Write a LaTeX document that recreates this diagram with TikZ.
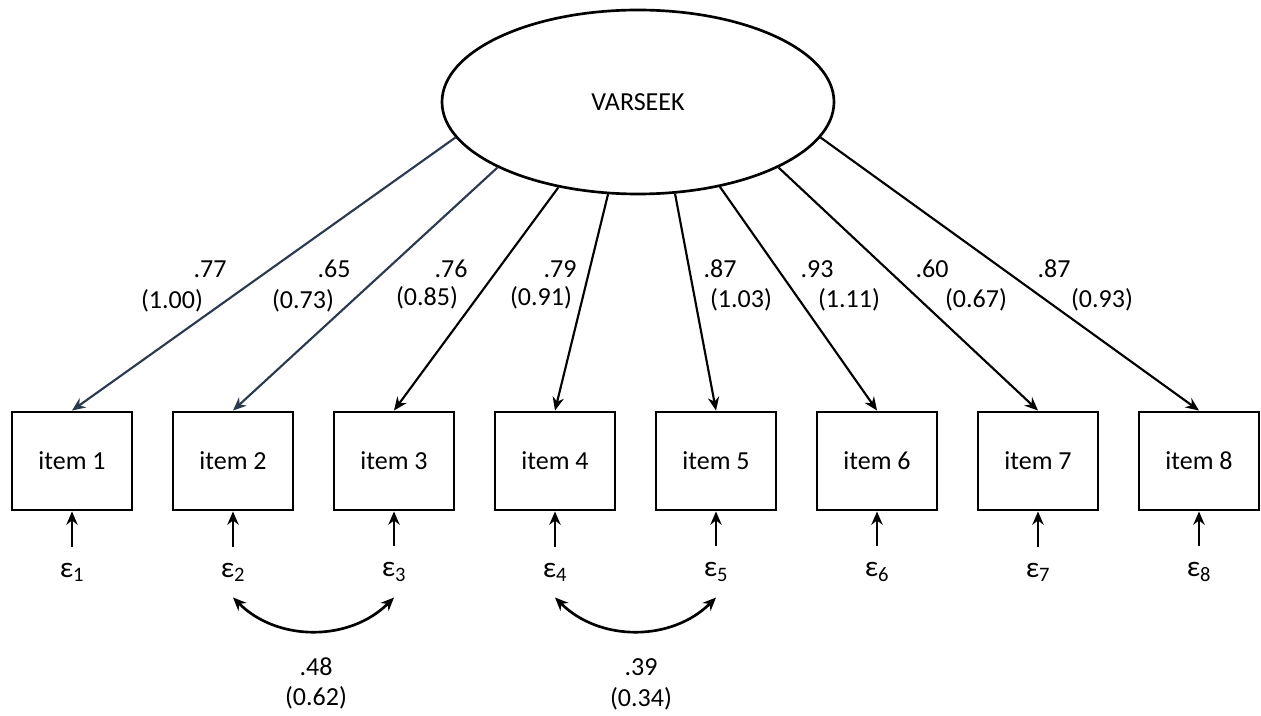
\documentclass[tikz,border=0pt]{standalone}
\usepackage{fontspec}
\setmainfont{Carlito}
\usetikzlibrary{shapes.geometric,arrows.meta}
\definecolor{pathblue}{HTML}{2B3A4F}
\tikzset{
  latent/.style={draw,ellipse,line width=2pt,minimum width=294pt,minimum height=138pt},
  itembox/.style={draw,rectangle,line width=2.2pt,minimum width=90pt,minimum height=73.5pt},
  errnode/.style={inner xsep=0pt,inner ysep=12pt,font=\fontsize{22}{24}\selectfont},
  load/.style={-{Stealth[length=10pt,width=8.5pt]},line width=1.6pt},
  errpath/.style={-{Stealth[length=10pt,width=8.5pt]},line width=1.9pt},
  cov/.style={{Stealth[length=10pt,width=8.5pt]}-{Stealth[length=10pt,width=8.5pt]},line width=2pt},
}
\begin{document}
\begin{tikzpicture}[x=0.75pt,y=0.75pt,font=\fontsize{19.5}{23}\selectfont]
\useasboundingbox (0,0) rectangle (1261,715);
% latent factor
\node[latent] (varseek) at (638,613) {VARSEEK};
% observed items
\node[itembox] (item1) at (72,254) {item 1};
\node[itembox] (item2) at (233,254) {item 2};
\node[itembox] (item3) at (394,254) {item 3};
\node[itembox] (item4) at (555,254) {item 4};
\node[itembox] (item5) at (716,254) {item 5};
\node[itembox] (item6) at (877,254) {item 6};
\node[itembox] (item7) at (1038,254) {item 7};
\node[itembox] (item8) at (1199,254) {item 8};
% error terms
\node[errnode] (e1) at (72,143) {ε\textsubscript{1}};
\node[errnode] (e2) at (233,143) {ε\textsubscript{2}};
\node[errnode] (e3) at (394,143) {ε\textsubscript{3}};
\node[errnode] (e4) at (555,143) {ε\textsubscript{4}};
\node[errnode] (e5) at (716,143) {ε\textsubscript{5}};
\node[errnode] (e6) at (877,143) {ε\textsubscript{6}};
\node[errnode] (e7) at (1038,143) {ε\textsubscript{7}};
\node[errnode] (e8) at (1199,143) {ε\textsubscript{8}};
% loadings
\draw[load,pathblue] (varseek.191) -- (item1.north);
\draw[load,pathblue] (varseek.205) -- (item2.north);
\draw[load] (varseek.227) -- (item3.north);
\draw[load] (varseek.252) -- (item4.north);
\draw[load] (varseek.292) -- (item5.north);
\draw[load] (varseek.314) -- (item6.north);
\draw[load] (varseek.335) -- (item7.north);
\draw[load] (varseek.349) -- (item8.north);
\draw[errpath] (e1) -- (item1);
\draw[errpath] (e2) -- (item2);
\draw[errpath] (e3) -- (item3);
\draw[errpath] (e4) -- (item4);
\draw[errpath] (e5) -- (item5);
\draw[errpath] (e6) -- (item6);
\draw[errpath] (e7) -- (item7);
\draw[errpath] (e8) -- (item8);
% loading values
\node (std1) at (210,446) {.77};
\node (raw1) at (172,414) {(1.00)};
\node (std2) at (334,446) {.65};
\node (raw2) at (303,414) {(0.73)};
\node (std3) at (451,446) {.76};
\node (raw3) at (427,417) {(0.85)};
\node (std4) at (560,446) {.79};
\node (raw4) at (541,417) {(0.91)};
\node (std5) at (720,446) {.87};
\node (raw5) at (741,415) {(1.03)};
\node (std6) at (817,446) {.93};
\node (raw6) at (849,415) {(1.11)};
\node (std7) at (932,446) {.60};
\node (raw7) at (976,415) {(0.67)};
\node (std8) at (1054,446) {.87};
\node (raw8) at (1102,415) {(0.93)};
% residual covariances
\draw[cov] (e2.south) to[bend right=45] (e3.south);
\draw[cov] (e4.south) to[bend right=45] (e5.south);
\node (covstd1) at (316,48) {.48};
\node (covraw1) at (316,17) {(0.62)};
\node (covstd2) at (641,48) {.39};
\node (covraw2) at (641,16) {(0.34)};
\end{tikzpicture}
\end{document}
